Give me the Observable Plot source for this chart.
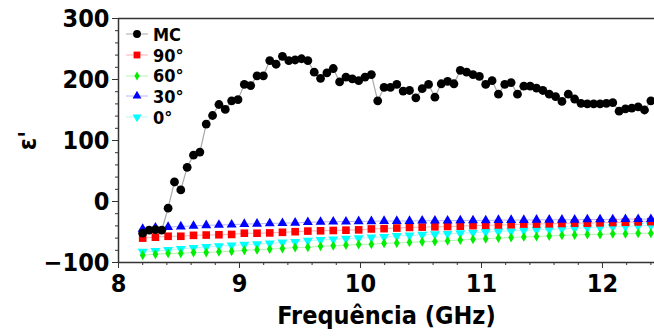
<!DOCTYPE html>
<html>
<head>
<meta charset="utf-8">
<script src="https://cdn.jsdelivr.net/npm/d3@7"></script>
<script src="https://cdn.jsdelivr.net/npm/@observablehq/plot@0.6"></script>
<style>
  html, body { margin: 0; padding: 0; background: #fff; }
  #wrap { position: relative; width: 654px; height: 336px; overflow: hidden; }
  #legend { position: absolute; left: 124px; top: 24px; font-family: "DejaVu Sans Condensed", "DejaVu Sans", sans-serif; font-weight: bold; font-size: 18px; color: #000; }
  .row { display: flex; align-items: center; height: 20.7px; }
  .row svg { display: block; margin-right: 3px; }
</style>
</head>
<body>
<div id="wrap"><div id="legend"></div></div>
<script>
// ---- data ----
const freqStart = 8.2;
const freqStop = 12.4;

const mcValues = [
  -52, -47, -46, -47, -11, 32, 19, 56, 76, 81,
  127, 141, 159, 151, 165, 167, 192, 190, 206, 206,
  231, 225, 238, 231, 232, 234, 231, 212, 202, 211,
  218, 196, 204, 201, 198, 204, 208, 165, 187, 187,
  192, 181, 182, 170, 185, 192, 171, 193, 197, 193,
  215, 212, 208, 205, 192, 198, 176, 192, 195, 176,
  189, 189, 186, 182, 176, 172, 164, 176, 168, 161,
  160, 160, 160, 161, 162, 148, 152, 153, 155, 150,
  165
];

const values90 = [
  -60, -58.5, -57, -57, -55.5, -55, -54.5, -54, -52, -52,
  -51.5, -50.5, -49.5, -48.5, -48, -47.5, -47, -46.5, -45, -44.5,
  -43.5, -42.5, -42, -41.5, -41, -40.5, -39.5, -39, -38.5, -38,
  -37, -37, -36.5, -36, -35.5, -35.5, -35, -34.5, -34, -33.5,
  -33
];
const values60 = [
  -88, -86.5, -85, -85, -83.5, -83.5, -82.5, -81.5, -80, -79,
  -78, -77, -75.5, -75, -73.5, -72.5, -71.5, -70.5, -70, -68.5,
  -68, -67, -66, -65.5, -64.5, -63, -62, -61, -60, -59,
  -58, -57.5, -56.5, -55.5, -55, -54, -54, -53, -53, -52,
  -52
];
const values30 = [
  -45, -43, -42, -41, -40, -39, -38.5, -38, -37, -36.5,
  -36, -35.5, -35, -34, -33.5, -33, -33, -32.5, -32.5, -32,
  -32, -32, -31.5, -31.5, -31.5, -31, -31, -31, -30.5, -30.5,
  -30.5, -30, -30, -30, -30, -29.5, -29.5, -29.5, -29, -29,
  -29
];
const values0 = [
  -82, -81, -79.5, -77.5, -76, -74.5, -73, -72, -70.5, -70,
  -68.5, -67, -66, -64, -63, -62, -61, -60, -59, -58,
  -56.5, -55.5, -54.5, -53.5, -53, -52, -51, -50, -49, -48.5,
  -47.5, -46.5, -46, -45, -44, -43, -42.5, -41.5, -41, -40,
  -39
];

const seriesNames = ["MC", "90°", "60°", "30°", "0°"];
const xTicks = [8, 9, 10, 11, 12];
const yTicks = [-100, 0, 100, 200, 300];
const xDomain = [8, 12.43];
const yDomain = [-100, 300];

// ---- build tables ----
function grid(n) {
  return d3.range(n).map(i => freqStart + i * (freqStop - freqStart) / (n - 1));
}
const mcF = grid(mcValues.length);
const mc = mcValues.map((v, i) => ({f: mcF[i], v}));
const angF = grid(values90.length);
const mk = arr => arr.map((v, i) => ({f: angF[i], v}));
const s90 = mk(values90), s60 = mk(values60), s30 = mk(values30), s0 = mk(values0);

const styles = {
  "MC":  {color: "#000000", line: "#a8a8a8", symbol: "circle", r: 4.4, rotate: 0},
  "90°": {color: "#ff0000", line: "#ffb0b0", symbol: "square", r: 4.3, rotate: 0},
  "60°": {color: "#00ee00", line: "#b0f5b0", symbol: "diamond", r: 3, rotate: 0},
  "30°": {color: "#0000ff", line: "#b8b8ff", symbol: "triangle", r: 3.7, rotate: 0},
  "0°":  {color: "#00ffff", line: "#b8f8f8", symbol: "triangle", r: 3.7, rotate: 180}
};

const minorX = d3.range(xDomain[0], xDomain[1] + 1e-9, 0.2).filter(t => Math.abs(t - Math.round(t)) > 1e-6);
const minorY = d3.range(yDomain[0], yDomain[1] + 1e-9, 20).filter(t => t % 100 !== 0);

const FONT = '"DejaVu Sans Condensed", "DejaVu Sans", sans-serif';
const axisColor = "#333";

function series(data, name) {
  const s = styles[name];
  return Plot.line(data, {x: "f", y: "v", stroke: s.line, strokeWidth: 1});
}
function dots(data, name) {
  const s = styles[name];
  return Plot.dot(data, {x: "f", y: "v", symbol: s.symbol, r: s.r, fill: s.color, stroke: "none", rotate: s.rotate});
}

const chart = Plot.plot({
  width: 654,
  height: 336,
  marginLeft: 118,
  marginRight: 0,
  marginTop: 18,
  marginBottom: 74,
  style: {fontFamily: FONT, fontWeight: "bold", fontSize: "24px", color: "#000", background: "#fff", overflow: "visible"},
  x: {domain: xDomain, label: "Frequência (GHz)"},
  y: {domain: yDomain, label: "ε'"},
  marks: [
    series(s0, "0°"),
    series(s60, "60°"),
    series(s90, "90°"),
    series(s30, "30°"),
    Plot.line(mc, {x: "f", y: "v", stroke: styles["MC"].line, strokeWidth: 1.2}),
    dots(s0, "0°"),
    dots(s60, "60°"),
    dots(s90, "90°"),
    dots(s30, "30°"),
    dots(mc, "MC"),
    Plot.ruleX([xDomain[0]], {stroke: axisColor, strokeWidth: 1.5}),
    Plot.ruleY([yDomain[0]], {stroke: axisColor, strokeWidth: 1.5}),
    Plot.ruleY([yDomain[1]], {stroke: axisColor, strokeWidth: 1.5}),
    Plot.axisX(minorX, {tickSize: 3, tickFormat: () => "", label: null, stroke: axisColor}),
    Plot.axisY(minorY, {tickSize: 3, tickFormat: () => "", label: null, stroke: axisColor}),
    Plot.axisX(xTicks, {tickSize: 6, tickPadding: 6, stroke: axisColor, fontSize: 25, tickFormat: d3.format("d"),
      labelAnchor: "center", labelArrow: "none", labelOffset: 61}),
    Plot.axisY(yTicks, {tickSize: 6, tickPadding: 3, stroke: axisColor, fontSize: 25, tickFormat: d3.format("d"),
      labelAnchor: "center", labelArrow: "none", labelOffset: 100})
  ]
});
document.getElementById("wrap").prepend(chart);

// ---- legend ----
const legend = document.getElementById("legend");
const symTypes = {circle: d3.symbolCircle, square: d3.symbolSquare, diamond: d3.symbolDiamond, triangle: d3.symbolTriangle};
for (const name of seriesNames) {
  const s = styles[name];
  const row = document.createElement("div");
  row.className = "row";
  const svg = d3.create("svg").attr("width", 26).attr("height", 20);
  svg.append("line").attr("x1", 2).attr("x2", 24).attr("y1", 10).attr("y2", 10).attr("stroke", s.line).attr("stroke-width", 1);
  const sym = d3.symbol(symTypes[s.symbol], Math.PI * s.r * s.r * 0.8);
  svg.append("path").attr("d", sym()).attr("fill", s.color)
    .attr("transform", `translate(13,10) rotate(${s.rotate})`);
  row.appendChild(svg.node());
  const t = document.createElement("span");
  t.textContent = name;
  row.appendChild(t);
  legend.appendChild(row);
}
</script>
</body>
</html>
